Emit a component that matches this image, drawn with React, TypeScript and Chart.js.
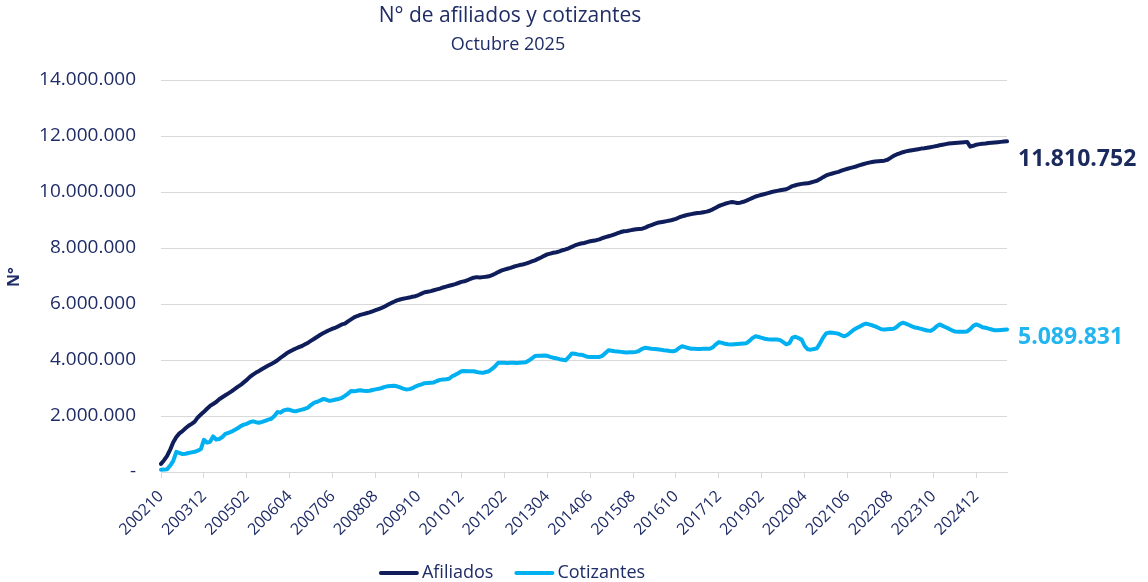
import React, { useEffect, useRef } from 'react';
import { Chart, registerables } from 'chart.js';

Chart.register(...registerables);

// ---- Data (valores en miles) ----
const startYear = 2002;
const startMonth = 10; // octubre 2002
const monthCount = 277; // oct 2002 .. oct 2025

const periods: string[] = [];
for (let k = 0; k < monthCount; k++) {
  const m = startMonth - 1 + k;
  periods.push(`${startYear + Math.floor(m / 12)}${String((m % 12) + 1).padStart(2, '0')}`);
}

const xTickLabels = [
  '200210', '200312', '200502', '200604', '200706', '200808', '200910', '201012', '201202', '201304',
  '201406', '201508', '201610', '201712', '201902', '202004', '202106', '202208', '202310', '202412',
];

const yTicks = [0, 2000000, 4000000, 6000000, 8000000, 10000000, 12000000, 14000000];

const afiliadosMiles = [
  // 2002 (oct-dic)
  290, 420, 580,
  // 2003
  800, 1060, 1250, 1380, 1460, 1560, 1650, 1720, 1800, 1950, 2050, 2150,
  // 2004
  2260, 2360, 2430, 2500, 2600, 2670, 2740, 2810, 2880, 2960, 3040, 3110,
  // 2005
  3200, 3290, 3400, 3480, 3550, 3610, 3680, 3740, 3800, 3860, 3920, 3990,
  // 2006
  4080, 4160, 4240, 4300, 4360, 4410, 4460, 4500, 4560, 4620, 4690, 4760,
  // 2007
  4830, 4900, 4960, 5020, 5070, 5120, 5160, 5210, 5270, 5300, 5380, 5450,
  // 2008
  5520, 5570, 5610, 5640, 5670, 5700, 5740, 5780, 5820, 5860, 5910, 5970,
  // 2009
  6030, 6080, 6130, 6160, 6190, 6210, 6230, 6260, 6280, 6320, 6370, 6420,
  // 2010
  6440, 6460, 6490, 6520, 6550, 6590, 6620, 6650, 6680, 6710, 6750, 6790,
  // 2011
  6810, 6850, 6900, 6940, 6960, 6950, 6960, 6970, 6990, 7030, 7080, 7140,
  // 2012
  7190, 7230, 7260, 7290, 7330, 7360, 7390, 7410, 7440, 7480, 7520, 7560,
  // 2013
  7610, 7660, 7720, 7770, 7800, 7830, 7850, 7880, 7920, 7950, 7990, 8040,
  // 2014
  8090, 8130, 8160, 8180, 8210, 8240, 8260, 8280, 8310, 8350, 8390, 8420,
  // 2015
  8450, 8490, 8530, 8570, 8600, 8610, 8630, 8650, 8670, 8680, 8690, 8730,
  // 2016
  8780, 8820, 8860, 8900, 8920, 8940, 8960, 8980, 9010, 9040, 9090, 9130,
  // 2017
  9160, 9190, 9210, 9230, 9250, 9260, 9280, 9300, 9330, 9380, 9440, 9500,
  // 2018
  9540, 9580, 9610, 9640, 9630, 9610, 9620, 9650, 9690, 9740, 9790, 9840,
  // 2019
  9870, 9900, 9930, 9960, 9990, 10020, 10040, 10060, 10080, 10100, 10150, 10210,
  // 2020
  10240, 10270, 10290, 10300, 10310, 10340, 10370, 10400, 10460, 10530, 10590, 10630,
  // 2021
  10660, 10690, 10720, 10760, 10800, 10830, 10860, 10890, 10920, 10960, 10990, 11020,
  // 2022
  11050, 11070, 11090, 11100, 11110, 11120, 11150, 11220, 11290, 11340, 11380, 11420,
  // 2023
  11450, 11470, 11490, 11510, 11530, 11550, 11560, 11580, 11600, 11620, 11640, 11670,
  // 2024
  11690, 11710, 11730, 11740, 11750, 11760, 11770, 11780, 11790, 11620, 11650, 11690,
  // 2025 (ene-oct)
  11710, 11720, 11730, 11750, 11760, 11770, 11780, 11790, 11800, 11810.752,
];

const cotizantesMiles = [
  // 2002 (oct-dic)
  80, 85, 100,
  // 2003
  230, 400, 720, 680, 640, 650, 680, 700, 720, 760, 820, 1150,
  // 2004
  1050, 1080, 1270, 1160, 1180, 1250, 1360, 1400, 1440, 1500, 1560, 1640,
  // 2005
  1690, 1720, 1780, 1810, 1780, 1760, 1790, 1830, 1870, 1900, 2000, 2140,
  // 2006
  2120, 2200, 2230, 2220, 2180, 2170, 2200, 2230, 2260, 2300, 2400, 2480,
  // 2007
  2510, 2560, 2610, 2580, 2540, 2560, 2590, 2610, 2650, 2720, 2800, 2890,
  // 2008
  2880, 2900, 2920, 2900, 2890, 2900, 2930, 2950, 2970, 3000, 3040, 3060,
  // 2009
  3070, 3080, 3060, 3020, 2980, 2950, 2960, 2990, 3050, 3100, 3130, 3170,
  // 2010
  3180, 3190, 3200, 3250, 3290, 3300, 3310, 3330, 3420, 3470, 3530, 3600,
  // 2011
  3610, 3600, 3600, 3600, 3570, 3550, 3540, 3570, 3600, 3680, 3780, 3900,
  // 2012
  3900, 3900, 3890, 3900, 3900, 3890, 3900, 3910, 3920, 3980, 4060, 4140,
  // 2013
  4150, 4150, 4160, 4150, 4110, 4080, 4060, 4030, 4010, 3990, 4100, 4230,
  // 2014
  4220, 4200, 4190, 4160, 4120, 4110, 4110, 4110, 4110, 4150, 4250, 4350,
  // 2015
  4330, 4310, 4300, 4290, 4280, 4270, 4280, 4280, 4290, 4330, 4400, 4440,
  // 2016
  4420, 4400, 4390, 4380, 4370, 4350, 4340, 4320, 4310, 4340, 4430, 4490,
  // 2017
  4460, 4430, 4400, 4400, 4390, 4390, 4400, 4400, 4400, 4450, 4560, 4640,
  // 2018
  4610, 4580, 4560, 4550, 4560, 4570, 4580, 4590, 4600, 4680, 4790, 4850,
  // 2019
  4820, 4790, 4760, 4740, 4730, 4730, 4730, 4710, 4640, 4560, 4600, 4800,
  // 2020
  4830, 4780, 4730, 4500, 4380, 4370, 4390, 4420, 4600, 4800, 4950, 4980,
  // 2021
  4970, 4960, 4940, 4880, 4850, 4900, 4990, 5080, 5140, 5200, 5260, 5300,
  // 2022
  5270, 5240, 5200, 5150, 5100, 5090, 5100, 5110, 5120, 5180, 5280, 5330,
  // 2023
  5300, 5250, 5200, 5160, 5140, 5110, 5080, 5050, 5040, 5100, 5200, 5270,
  // 2024
  5220, 5170, 5120, 5060, 5020, 5010, 5010, 5010, 5020, 5100, 5220, 5270,
  // 2025 (ene-oct)
  5230, 5170, 5150, 5120, 5090, 5060, 5060, 5070, 5080, 5089.831,
];

const seriesNames = ['Afiliados', 'Cotizantes'];
const seriesColors = ['#0F1E5A', '#00B0F0'];
const endLabelColors = ['#1B2A5C', '#22B5EF'];

const titleText = 'N° de afiliados y cotizantes';
const subtitleText = 'Octubre 2025';
const yAxisTitle = 'N°';

const FONT = '"Open Sans", "Noto Sans", sans-serif';
const TEXT_COLOR = '#1F2C66';

const fmt = (v: number) => String(Math.round(v)).replace(/\B(?=(\d{3})+(?!\d))/g, '.');

const overlayPlugin = {
  id: 'overlay',
  afterDraw(chart: any) {
    const ctx = chart.ctx as CanvasRenderingContext2D;
    const area = chart.chartArea;
    const yScale = chart.scales.y;
    ctx.save();

    // Title
    ctx.fillStyle = TEXT_COLOR;
    ctx.textAlign = 'center';
    ctx.textBaseline = 'middle';
    ctx.font = `21px ${FONT}`;
    ctx.fillText(titleText, 510, 16);
    ctx.font = `18px ${FONT}`;
    ctx.fillText(subtitleText, 508, 45);

    // Y axis title
    ctx.save();
    ctx.translate(14, 277);
    ctx.rotate(-Math.PI / 2);
    ctx.font = `bold 16px ${FONT}`;
    ctx.fillText(yAxisTitle, 0, 0);
    ctx.restore();

    // End labels
    const offsets = [18, 8];
    chart.data.datasets.forEach((ds: any, i: number) => {
      const last = ds.data[ds.data.length - 1];
      const y = yScale.getPixelForValue(last) + offsets[i];
      ctx.font = `bold 23px ${FONT}`;
      ctx.textAlign = 'left';
      ctx.fillStyle = endLabelColors[i];
      ctx.fillText(fmt(last), area.right + 11, y);
    });

    // Legend
    ctx.font = `18px ${FONT}`;
    const markerW = 40;
    const gap = 3;
    const itemGap = 21;
    const widths = seriesNames.map((n) => markerW + gap + ctx.measureText(n).width);
    const total = widths.reduce((a, b) => a + b, 0) + itemGap * (seriesNames.length - 1);
    let x = 512 - total / 2;
    const ly = 573;
    seriesNames.forEach((n, i) => {
      ctx.strokeStyle = seriesColors[i];
      ctx.lineWidth = 4;
      ctx.lineCap = 'round';
      ctx.beginPath();
      ctx.moveTo(x + 2, ly);
      ctx.lineTo(x + markerW - 2, ly);
      ctx.stroke();
      ctx.fillStyle = TEXT_COLOR;
      ctx.textAlign = 'left';
      ctx.textBaseline = 'middle';
      ctx.fillText(n, x + markerW + gap, ly);
      x += widths[i] + itemGap;
    });

    ctx.restore();
  },
};

export default function App() {
  const canvasRef = useRef<HTMLCanvasElement | null>(null);

  useEffect(() => {
    if (!canvasRef.current) return;
    const chart = new Chart(canvasRef.current, {
      type: 'line',
      data: {
        labels: periods,
        datasets: [
          {
            label: seriesNames[0],
            data: afiliadosMiles.map((v) => Math.round(v * 1000)),
            borderColor: seriesColors[0],
            backgroundColor: seriesColors[0],
            borderWidth: 4,
            pointRadius: 0,
            tension: 0,
            borderJoinStyle: 'round',
            borderCapStyle: 'round',
          },
          {
            label: seriesNames[1],
            data: cotizantesMiles.map((v) => Math.round(v * 1000)),
            borderColor: seriesColors[1],
            backgroundColor: seriesColors[1],
            borderWidth: 4,
            pointRadius: 0,
            tension: 0,
            borderJoinStyle: 'round',
            borderCapStyle: 'round',
          },
        ],
      },
      options: {
        responsive: false,
        animation: false,
        layout: { padding: { top: 80, right: 141, bottom: 0, left: 0 } },
        plugins: {
          legend: { display: false },
          title: { display: false },
          tooltip: { enabled: false },
        },
        scales: {
          x: {
            type: 'category',
            offset: false,
            ticks: {
              autoSkip: false,
              minRotation: 45,
              maxRotation: 45,
              color: TEXT_COLOR,
              font: { family: FONT, size: 16 },
              padding: 9,
            },
            grid: {
              display: true,
              drawOnChartArea: false,
              drawTicks: true,
              tickLength: 6,
              color: '#D9D9D9',
            },
            border: { display: true, color: '#D9D9D9', width: 1 },
            afterBuildTicks: (scale: any) => {
              scale.ticks = scale.ticks.filter((t: any) => xTickLabels.includes(periods[t.value]));
            },
            afterFit: (scale: any) => {
              scale.height = 110;
            },
          },
          y: {
            min: 0,
            max: 14000000,
            ticks: {
              stepSize: 2000000,
              padding: 25,
              color: TEXT_COLOR,
              font: { family: FONT, size: 19 },
              callback: (v: any) => (Number(v) === 0 ? '-' : fmt(Number(v))),
            },
            afterBuildTicks: (scale: any) => {
              scale.ticks = yTicks.map((v) => ({ value: v }));
            },
            grid: { color: '#D9D9D9', lineWidth: 1, drawTicks: false },
            border: { display: false },
            afterFit: (scale: any) => {
              scale.width = 161;
            },
          },
        },
      },
      plugins: [overlayPlugin],
    });
    return () => chart.destroy();
  }, []);

  return (
    <div style={{ position: 'fixed', left: 0, top: 0, width: 1148, height: 582, background: '#fff' }}>
      <canvas ref={canvasRef} width={1148} height={582} style={{ display: 'block' }} />
    </div>
  );
}
